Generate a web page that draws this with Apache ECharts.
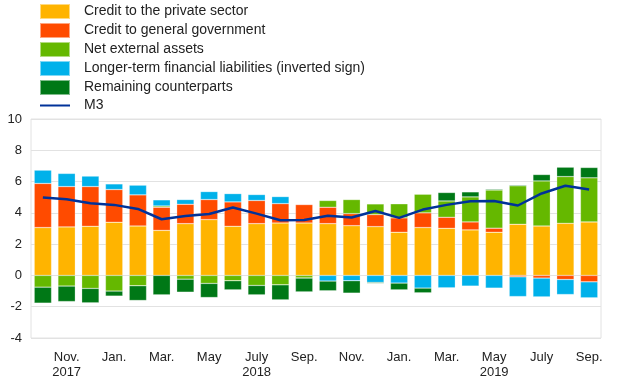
<!DOCTYPE html>
<html><head><meta charset="utf-8">
<script src="https://cdn.jsdelivr.net/npm/echarts@6/dist/echarts.min.js"></script>
<style>html,body{margin:0;padding:0;background:#fff}#c{width:620px;height:387px}</style>
</head><body><div id="c"></div>
<script>
var categories = ['Oct.','Nov.\n2017','Dec.','Jan.','Feb.','Mar.','Apr.','May','June','July\n2018','Aug.','Sep.','Oct.','Nov.','Dec.','Jan.','Feb.','Mar.','Apr.','May\n2019','June','July','Aug.','Sep.'];
var privateCredit = [3.06,3.10,3.14,3.40,3.16,2.88,3.31,3.57,3.14,3.31,3.35,3.35,3.31,3.18,3.12,2.76,3.06,3.01,2.91,2.76,3.27,3.16,3.33,3.42];
var govCredit = [2.82,2.58,2.54,2.09,1.99,1.48,1.24,1.28,1.56,1.48,1.24,1.18,1.05,0.77,0.77,0.92,0.94,0.71,0.51,0.26,-0.09,-0.17,-0.26,-0.41];
var netExternal = [-0.75,-0.68,-0.83,-1.00,-0.66,0.08,-0.24,-0.51,-0.34,-0.64,-0.60,-0.17,0.43,0.90,0.68,0.90,1.19,1.04,1.60,2.44,2.46,2.88,2.99,2.82];
var longerTerm = [0.85,0.84,0.67,0.36,0.62,0.39,0.30,0.51,0.53,0.38,0.45,0,-0.36,-0.34,-0.45,-0.49,-0.81,-0.79,-0.68,-0.81,-1.26,-1.20,-0.96,-1.02];
var remaining = [-1.02,-0.99,-0.92,-0.32,-0.94,-1.24,-0.83,-0.90,-0.58,-0.60,-0.96,-0.88,-0.62,-0.79,-0.06,-0.43,-0.30,0.54,0.32,0.06,0.06,0.41,0.60,0.66];
var m3 = [4.98,4.87,4.62,4.51,4.25,3.59,3.80,3.93,4.34,3.95,3.53,3.55,3.82,3.70,4.12,3.68,4.21,4.51,4.74,4.76,4.47,5.24,5.73,5.49];
var yTicks = {min:-4, max:10, interval:2};

var font = 'Liberation Sans, Arial, sans-serif';
function bar(name, data, color){
  return {name:name, type:'bar', stack:'s', data:data, barCategoryGap:'27%',
    itemStyle:{color:color, borderColor:'rgba(255,255,255,0.5)', borderWidth:0.5}};
}
var names = ['Credit to the private sector','Credit to general government','Net external assets','Longer-term financial liabilities (inverted sign)','Remaining counterparts','M3'];
var legendData = names.slice(0,5).map(function(n){return {name:n, icon:'rect'};});
legendData.push({name:'M3', itemStyle:{opacity:0}});
var chart = echarts.init(document.getElementById('c'), null, {renderer:'canvas'});
chart.setOption({
  animation:false,
  textStyle:{fontFamily:font},
  legend:{orient:'vertical', left:39, top:3, padding:0, itemWidth:30, itemHeight:15, itemGap:2,
    textStyle:{fontSize:14, color:'#222', fontFamily:font, padding:[0,0,0,9], lineHeight:15},
    data:legendData},
  grid:{left:31, right:19, top:119, bottom:49, show:true, borderColor:'#e2e2e2', borderWidth:1},
  xAxis:{type:'category', data:categories,
    axisLine:{show:false}, axisTick:{show:false},
    axisLabel:{interval:function(i){return i%2===1;}, fontSize:13, color:'#222', lineHeight:15, margin:12, fontFamily:font}},
  yAxis:{type:'value', min:yTicks.min, max:yTicks.max, interval:yTicks.interval,
    axisLine:{show:false}, axisTick:{show:false},
    axisLabel:{fontSize:13, color:'#222', margin:9, fontFamily:font},
    splitLine:{lineStyle:{color:'#e2e2e2', width:1}}},
  series:[
    bar(names[0], privateCredit, '#FFB400'),
    bar(names[1], govCredit, '#FF4B00'),
    bar(names[2], netExternal, '#65B800'),
    bar(names[3], longerTerm, '#00B1EA'),
    bar(names[4], remaining, '#007816'),
    {name:'M3', type:'line', data:m3, symbol:'none', lineStyle:{color:'#003299', width:2.5}, itemStyle:{color:'#003299'}, z:10}
  ]
});
</script></body></html>
